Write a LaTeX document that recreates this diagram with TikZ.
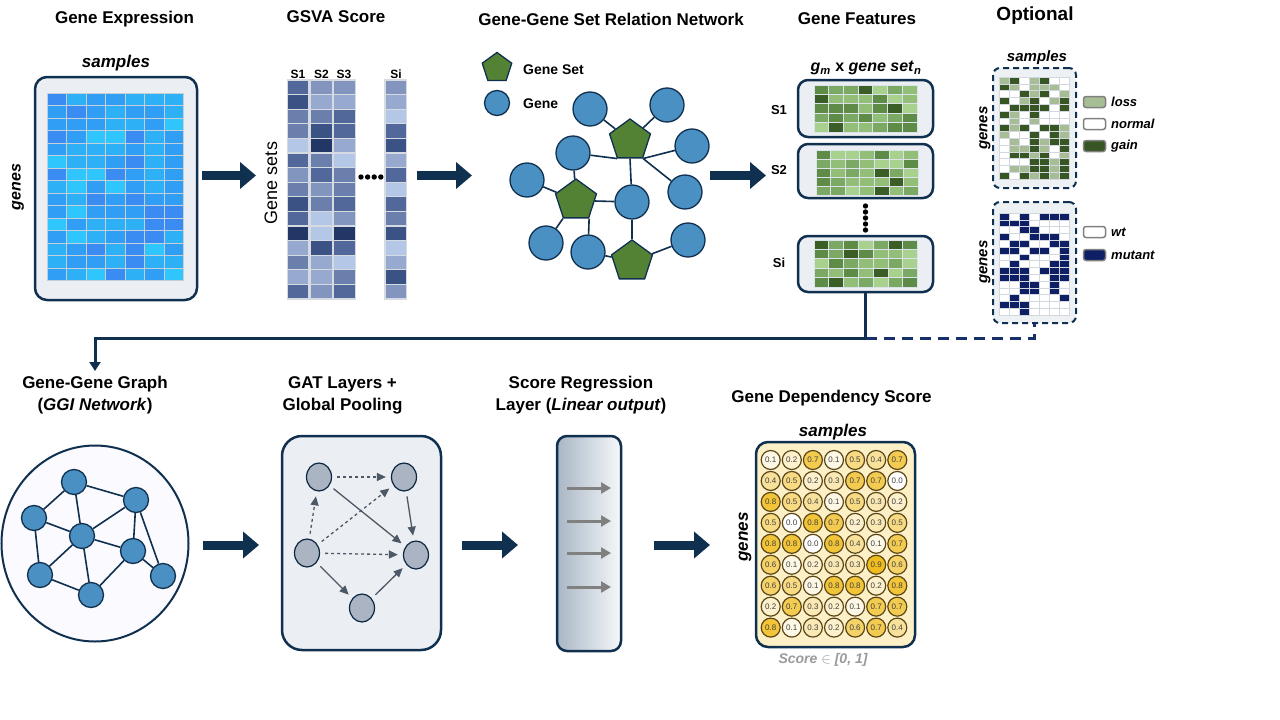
\documentclass[tikz,border=0pt]{standalone}
\usepackage{fontspec}
\setmainfont{Liberation Sans}
\usetikzlibrary{arrows.meta,shapes.geometric}
\definecolor{navy}{HTML}{10304F}
\definecolor{dnavy}{HTML}{15306B}
\definecolor{panelgray}{HTML}{EBEEF2}
\definecolor{gridline}{HTML}{C5CFDA}
\definecolor{gsgrid}{HTML}{D6DBE2}
\definecolor{bl1}{HTML}{3A8CF2}
\definecolor{bl2}{HTML}{309EF4}
\definecolor{bl3}{HTML}{2EB0F7}
\definecolor{bl4}{HTML}{2EC6FC}
\definecolor{sv1}{HTML}{B4C7E7}
\definecolor{sv2}{HTML}{97A9CF}
\definecolor{sv3}{HTML}{8195BF}
\definecolor{sv4}{HTML}{6B7FAD}
\definecolor{sv5}{HTML}{52689A}
\definecolor{sv6}{HTML}{3A5284}
\definecolor{sv7}{HTML}{223766}
\definecolor{gr1}{HTML}{A9D18E}
\definecolor{gr2}{HTML}{93BE78}
\definecolor{gr3}{HTML}{7BA862}
\definecolor{gr4}{HTML}{5E8B45}
\definecolor{gr5}{HTML}{3B5E27}
\definecolor{op0}{HTML}{FFFFFF}
\definecolor{op1}{HTML}{A6BD96}
\definecolor{op2}{HTML}{375623}
\definecolor{mu0}{HTML}{FFFFFF}
\definecolor{mu1}{HTML}{0F1F66}
\definecolor{opgrid}{HTML}{D3D8DE}
\definecolor{optfill}{HTML}{EEF1F4}
\definecolor{geneblue}{HTML}{4A90C2}
\definecolor{setgreen}{HTML}{548235}
\definecolor{gatnode}{HTML}{AAB4C3}
\definecolor{gatline}{HTML}{4D5866}
\definecolor{gold}{HTML}{F0BC1C}
\definecolor{gdsfill}{HTML}{FDF0C7}
\definecolor{circbrown}{HTML}{5A4616}
\definecolor{legbord}{HTML}{808080}
\definecolor{regleft}{HTML}{A9B6C5}
\definecolor{regright}{HTML}{F6F8FA}
\definecolor{scoregray}{HTML}{9A9A9A}
\begin{document}
\begin{tikzpicture}[x=1pt,y=-1pt,
  title/.style={font=\fontsize{17}{22}\selectfont\bfseries, align=center, inner sep=0},
  axlab/.style={font=\fontsize{16}{18}\selectfont\bfseries\itshape, inner sep=0},
  panel/.style={draw=navy, line width=2.5pt, fill=panelgray, rounded corners=12pt, inner sep=0},
  optbox/.style={draw=navy, line width=2pt, dash pattern=on 6pt off 4pt, fill=optfill, rounded corners=7pt, inner sep=0},
  bigarrow/.style={draw=navy, line width=9pt, -{Triangle[length=16pt,width=26pt]}},
  flowline/.style={draw=navy, line width=3pt},
  dashline/.style={draw=dnavy, line width=3pt, dash pattern=on 11pt off 7pt},
  gene/.style={circle, draw=navy, line width=1.3pt, fill=geneblue, minimum size=34pt, inner sep=0},
  gset/.style={regular polygon, regular polygon sides=5, draw=navy, line width=1.3pt, fill=setgreen, minimum size=43pt, inner sep=0},
  netedge/.style={draw=navy, line width=1.6pt},
  ggin/.style={circle, draw=navy, line width=1.3pt, fill=geneblue, minimum size=25pt, inner sep=0},
  gatn/.style={ellipse, draw=navy!80!black, line width=1.2pt, fill=gatnode, minimum width=25pt, minimum height=28pt, inner sep=0},
  gatarr/.style={draw=gatline, line width=1.3pt, -{Triangle[length=9pt,width=8pt]}, shorten >=5pt, shorten <=5pt},
  regarr/.style={draw=gray, line width=3pt, -{Triangle[length=10pt,width=11pt]}},
  legbox/.style={draw=legbord, line width=1.5pt, rounded corners=2.5pt, minimum width=22pt, minimum height=11pt, inner sep=0},
  legtext/.style={font=\fontsize{13}{15}\selectfont\bfseries\itshape, anchor=west, inner sep=0},
  scorecirc/.style={circle, minimum size=19pt, inner sep=0, draw=circbrown, line width=1.2pt, font=\fontsize{8}{8}\selectfont, text=black!75}
]
\useasboundingbox (0,0) rectangle (1280,720);

% ---------- Titles ----------
\node[title] (t1) at (124.5,19) {Gene Expression};
\node[title] (t2) at (336,17) {GSVA Score};
\node[title] (t3) at (611,19) {Gene-Gene Set Relation Network};
\node[title] (t4) at (857,19) {Gene Features};
\node[title, font=\fontsize{19}{22}\selectfont\bfseries] (t5) at (1035,16) {Optional};
\node[title] (t6) at (95,395) {Gene-Gene Graph\\(\textit{GGI Network})};
\node[title] (t7) at (342.5,395) {GAT Layers +\\Global Pooling};
\node[title] (t8) at (581,395) {Score Regression\\Layer (\textit{Linear output})};
\node[title] (t9) at (831.5,398) {Gene Dependency Score};

% ---------- Gene expression ----------
\node[panel, minimum width=162pt, minimum height=223pt] (expbox) at (116,188.5) {};
\node[axlab, font=\fontsize{17}{19}\selectfont\bfseries\itshape] (expsamp) at (116,63) {samples};
\node[axlab, rotate=90] (expgenes) at (18,187) {genes};
\foreach \row [count=\r from 0] in {{1,3,2,2,3,3,3},{2,1,2,3,2,2,3},{2,2,2,3,3,2,4},{1,2,4,4,1,3,2},{2,3,3,3,2,3,2},{4,3,3,2,1,3,2},{1,4,4,1,2,3,2},{3,4,2,4,2,3,2},{2,3,1,2,1,2,2},{2,4,2,2,2,1,1},{4,2,3,3,3,1,1},{2,4,3,2,1,1,3},{3,2,1,3,1,4,2},{3,2,2,3,1,3,3},{2,3,4,1,3,2,4}}
  \foreach \v [count=\c from 0] in \row
    \filldraw[fill=bl\v, draw=gridline, line width=1pt] ({47+\c*19.57},{93+\r*12.53}) rectangle ++(19.57,12.53);

% ---------- GSVA ----------
\foreach \lab/\xc in {S1/298,S2/321.5,S3/344,Si/396}
  \node[font=\fontsize{12}{14}\selectfont\bfseries, inner sep=0] at (\xc,74) {\lab};
\node[font=\fontsize{18}{20}\selectfont, rotate=90, inner sep=0] (gsets) at (271,183) {Gene sets};
\foreach \row [count=\r from 0] in {{5,3,3,3},{6,2,2,2},{4,4,5,1},{4,6,5,5},{1,7,2,6},{5,4,1,2},{3,5,4,5},{4,3,4,1},{6,4,5,5},{5,1,3,4},{7,1,7,6},{2,6,5,1},{4,2,1,2},{2,2,4,6},{5,3,5,3}}
  \foreach \v [count=\c] in \row {
    \pgfmathsetmacro\xx{ifthenelse(\c<4, 287.3+(\c-1)*23.2, 385)}
    \filldraw[fill=sv\v, draw=gsgrid, line width=1.2pt] (\xx,{80+\r*14.6}) rectangle ++(21.6,14.6);
  }
\foreach \i in {0,...,3}
  \fill ({361+\i*6.6},177) circle (2.7);

% ---------- Gene-gene set network ----------
\node[gset, minimum size=31pt] (lgset) at (497,68) {};
\node[font=\fontsize{14}{16}\selectfont\bfseries, anchor=west, inner sep=0] at (523,70) {Gene Set};
\node[gene, minimum size=25pt] (lgene) at (497,103) {};
\node[font=\fontsize{14}{16}\selectfont\bfseries, anchor=west, inner sep=0] at (523,104) {Gene};

\node[gene] (c1) at (590,109) {};
\node[gene] (c2) at (667,105) {};
\node[gene] (c3) at (573,153) {};
\node[gene] (c4) at (692,146) {};
\node[gene] (c5) at (527,180) {};
\node[gene] (c6) at (685,192) {};
\node[gene] (c7) at (632,202) {};
\node[gene] (c8) at (546,243) {};
\node[gene] (c9) at (588,252) {};
\node[gene] (c10) at (688,240) {};
\node[gset] (p1) at (630,140.5) {};
\node[gset] (p2) at (576,200.5) {};
\node[gset] (p3) at (632,261.5) {};
\draw[netedge] (c1) -- (p1);
\draw[netedge] (c2) -- (p1);
\draw[netedge] (c3) -- (p1.corner 3);
\draw[netedge] (c4) -- (p1.corner 4);
\draw[netedge] (c6) -- (p1.corner 4);
\draw[netedge] (c7) -- (p1.south);
\draw[netedge] (c3) -- (p2);
\draw[netedge] (c5) -- (p2);
\draw[netedge] (c7) -- (p2);
\draw[netedge] (c8) -- (p2.corner 3);
\draw[netedge] (c9) -- (p2.corner 4);
\draw[netedge] (c7) -- (p3);
\draw[netedge] (c9) -- (p3);
\draw[netedge] (c10) -- (p3);

% ---------- Gene features ----------
\node[font=\fontsize{16}{18}\selectfont\bfseries, inner sep=0] (fsub) at (866,68) {\textit{g}\textsubscript{\textit{m}} x \textit{gene set}\textsubscript{\textit{n}}};
\node[panel, rounded corners=10pt, minimum width=135pt, minimum height=57pt] (fs1) at (865.5,108.5) {};
\node[panel, rounded corners=10pt, minimum width=135pt, minimum height=54pt] (fs2) at (865.5,171) {};
\node[panel, rounded corners=10pt, minimum width=135pt, minimum height=56pt] (fsi) at (865.5,264) {};
\node[font=\fontsize{13}{15}\selectfont\bfseries, inner sep=0] at (779,110) {S1};
\node[font=\fontsize{13}{15}\selectfont\bfseries, inner sep=0] at (779,170) {S2};
\node[font=\fontsize{13}{15}\selectfont\bfseries, inner sep=0] at (779,263) {Si};
\foreach \row [count=\r from 0] in {{4,3,3,5,1,3,2},{5,2,2,2,4,1,2},{4,4,4,2,4,5,1},{3,4,3,4,2,3,4},{1,5,2,2,3,4,4}}
  \foreach \v [count=\c from 0] in \row
    \filldraw[fill=gr\v, draw=gridline!60!white, line width=0.8pt] ({814+\c*14.7},{85+\r*9.4}) rectangle ++(14.7,9.4);
\foreach \row [count=\r from 0] in {{4,1,1,2,4,1,2},{3,2,3,2,1,1,4},{4,2,3,2,5,3,1},{4,3,2,2,2,5,2},{3,3,1,2,5,2,3}}
  \foreach \v [count=\c from 0] in \row
    \filldraw[fill=gr\v, draw=gridline!60!white, line width=0.8pt] ({816+\c*14.6},{150+\r*9}) rectangle ++(14.6,9);
\foreach \row [count=\r from 0] in {{5,3,4,1,3,5,4},{4,3,5,4,2,2,1},{1,4,3,2,2,3,1},{3,2,4,2,5,1,3},{4,5,2,3,1,3,4}}
  \foreach \v [count=\c from 0] in \row
    \filldraw[fill=gr\v, draw=gridline!60!white, line width=0.8pt] ({814+\c*14.8},{240+\r*9.4}) rectangle ++(14.8,9.4);
\foreach \i in {0,...,4}
  \fill (865.5,{206+\i*6}) circle (2.7);

% ---------- Optional ----------
\node[optbox, minimum width=83pt, minimum height=120pt] (optop) at (1034.5,128) {};
\node[optbox, minimum width=83pt, minimum height=121pt] (optbot) at (1034.5,262.5) {};
\node[axlab, font=\fontsize{15}{17}\selectfont\bfseries\itshape] at (1037,58) {samples};
\node[axlab, font=\fontsize{15}{17}\selectfont\bfseries\itshape, rotate=90] at (985,128) {genes};
\node[axlab, font=\fontsize{15}{17}\selectfont\bfseries\itshape, rotate=90] at (985,262) {genes};
\foreach \row [count=\r from 0] in {{1,2,0,1,2,0,0},{2,1,0,1,1,1,0},{0,0,2,1,2,0,1},{2,0,1,2,0,1,2},{0,2,2,2,2,0,2},{2,1,0,2,0,0,0},{0,1,0,1,0,0,0},{2,1,2,0,2,2,1},{1,0,0,2,0,2,1},{0,1,0,2,1,2,2},{0,1,1,2,1,0,2},{0,2,2,1,2,0,1},{0,0,0,2,2,1,2},{0,1,1,2,2,1,2},{2,0,2,1,2,1,2}}
  \foreach \v [count=\c from 0] in \row
    \filldraw[fill=op\v, draw=opgrid, line width=0.6pt] ({999+\c*10.1},{77+\r*6.8}) rectangle ++(10.1,6.8);
\foreach \row [count=\r from 0] in {{1,0,1,0,1,1,1},{1,1,1,0,0,0,0},{0,0,1,1,0,0,0},{1,0,0,1,1,1,0},{0,1,1,0,0,1,1},{1,1,0,1,1,0,1},{0,0,1,0,0,0,1},{0,1,0,0,0,1,1},{1,1,1,0,1,1,1},{1,1,1,0,0,1,1},{0,0,1,1,0,1,0},{0,0,1,1,0,1,0},{0,1,0,0,0,0,1},{1,1,1,0,0,0,0},{0,0,1,0,0,0,0}}
  \foreach \v [count=\c from 0] in \row
    \filldraw[fill=mu\v, draw=opgrid, line width=0.6pt] ({999+\c*10.1},{213+\r*6.8}) rectangle ++(10.1,6.8);
\node[legbox, fill=op1] (lloss) at (1094.5,102) {};
\node[legtext] at (1111,102) {loss};
\node[legbox, fill=white] (lnorm) at (1094.5,124) {};
\node[legtext] at (1111,124) {normal};
\node[legbox, fill=op2] (lgain) at (1094.5,146) {};
\node[legtext] at (1111,146) {gain};
\node[legbox, fill=white] (lwt) at (1094.5,232) {};
\node[legtext] at (1111,232) {wt};
\node[legbox, fill=mu1] (lmut) at (1094.5,255) {};
\node[legtext] at (1111,255) {mutant};

% ---------- top block arrows ----------
\coordinate (a1s) at (202,175.5); \coordinate (a1e) at (256,175.5);
\coordinate (a2s) at (417,175.5); \coordinate (a2e) at (472,175.5);
\coordinate (a3s) at (710,175.5); \coordinate (a3e) at (766,175.5);
\draw[bigarrow] (a1s) -- (a1e);
\draw[bigarrow] (a2s) -- (a2e);
\draw[bigarrow] (a3s) -- (a3e);

% ---------- flow connectors ----------
\coordinate (bend) at (865.5,338);
\coordinate (ggiin) at (95,371);
\draw[flowline, -{Triangle[length=9pt,width=11pt]}] (fsi.south) -- (bend) -| (ggiin);
\draw[dashline] (bend) -| (optbot.south);

% ---------- GGI network ----------
\node[ellipse, draw=navy, line width=2pt, fill=blue!2!white, minimum width=187pt, minimum height=196pt, inner sep=0] (ggi) at (95,543.5) {};
\node[ggin] (g1) at (74,482) {};
\node[ggin] (g2) at (136,500) {};
\node[ggin] (g3) at (34,518) {};
\node[ggin] (g4) at (82,536) {};
\node[ggin] (g5) at (133,551) {};
\node[ggin] (g6) at (40,575) {};
\node[ggin] (g7) at (163,576) {};
\node[ggin] (g8) at (91,595) {};
\foreach \a/\b in {g1/g2,g1/g3,g1/g4,g2/g4,g2/g5,g2/g7,g3/g4,g3/g6,g4/g5,g4/g6,g4/g8,g5/g7,g5/g8,g6/g8}
  \draw[netedge] (\a) -- (\b);

% ---------- GAT ----------
\node[panel, rounded corners=20pt, minimum width=159pt, minimum height=214pt] (gat) at (361.5,543) {};
\node[gatn] (ga) at (319,477) {};
\node[gatn] (gb) at (404,477) {};
\node[gatn] (gc) at (307,553) {};
\node[gatn] (gd) at (416,555) {};
\node[gatn] (ge) at (362,608) {};
\draw[gatarr, dashed] (ga) -- (gb);
\draw[gatarr] (ga) -- (gd);
\draw[gatarr] (gb) -- (gd);
\draw[gatarr, dashed] (gc) -- (ga);
\draw[gatarr, dashed] (gc) -- (gb);
\draw[gatarr, dashed] (gc) -- (gd);
\draw[gatarr] (gc) -- (ge);
\draw[gatarr] (ge) -- (gd);

% ---------- Regression layer ----------
\node[draw=navy, line width=2.5pt, rounded corners=10pt, left color=regleft, right color=regright, minimum width=64pt, minimum height=215pt, inner sep=0] (reg) at (589,543.5) {};
\foreach \yy [count=\k] in {488,521,553,587} {
  \coordinate (rs\k) at (567,\yy);
  \coordinate (re\k) at (611,\yy);
  \draw[regarr] (rs\k) -- (re\k);
}

% ---------- bottom block arrows ----------
\coordinate (a4s) at (203,545); \coordinate (a4e) at (259,545);
\coordinate (a5s) at (462,545); \coordinate (a5e) at (518,545);
\coordinate (a6s) at (654,545); \coordinate (a6e) at (710,545);
\draw[bigarrow] (a4s) -- (a4e);
\draw[bigarrow] (a5s) -- (a5e);
\draw[bigarrow] (a6s) -- (a6e);

% ---------- Gene dependency score ----------
\node[panel, fill=gdsfill, rounded corners=12pt, minimum width=159pt, minimum height=205pt] (gds) at (835.5,544.5) {};
\node[axlab, font=\fontsize{17}{19}\selectfont\bfseries\itshape] at (833,432) {samples};
\node[axlab, font=\fontsize{17}{19}\selectfont\bfseries\itshape, rotate=90] at (745,537) {genes};
\foreach \row [count=\r from 0] in {{1,2,7,1,5,4,7},{4,5,2,3,7,7,0},{8,5,4,1,5,3,2},{5,0,8,7,2,3,5},{8,8,0,8,4,1,7},{6,1,2,3,3,9,6},{6,5,1,8,8,2,8},{2,7,3,2,1,7,7},{8,1,3,2,6,7,4}}
  \foreach \v [count=\c from 0] in \row {
    \pgfmathtruncatemacro\p{\v*11}
    \node[scorecirc, fill=gold!\p!white] at ({770.7+\c*21.1},{460+\r*20.95}) {0.\v};
  }
\node[font=\fontsize{14}{16}\selectfont\bfseries\itshape, text=scoregray, inner sep=0] (scorelab) at (823,660) {Score $\in$ [0, 1]};
\end{tikzpicture}
\end{document}
